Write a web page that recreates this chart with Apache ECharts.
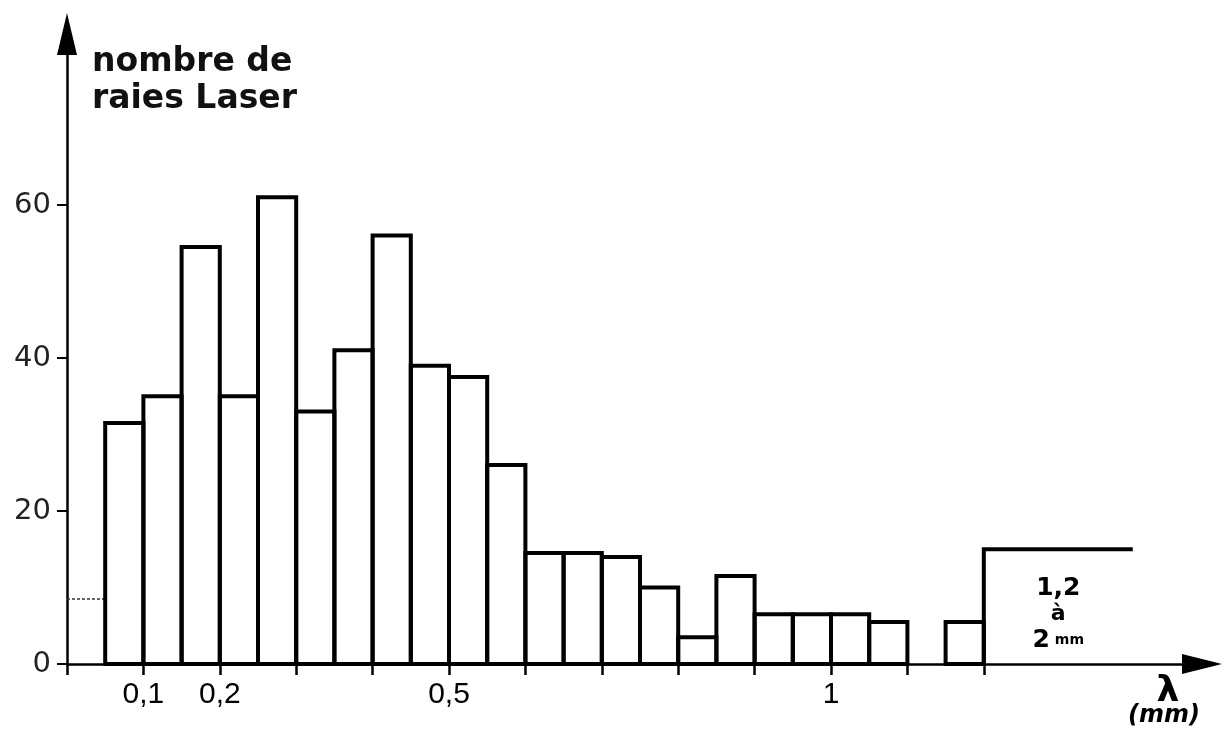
<!DOCTYPE html>
<html>
<head>
<meta charset="utf-8">
<script src="https://cdn.jsdelivr.net/npm/echarts@6/dist/echarts.min.js"></script>
<style>
  html, body { margin: 0; padding: 0; background: #fff; }
  #chart { width: 1227px; height: 744px; }
</style>
</head>
<body>
<div id="chart"></div>
<script>
// Classes de longueur d'onde λ (mm) : bornes inférieure et supérieure
const binLow  = [0.00, 0.05, 0.10, 0.15, 0.20, 0.25, 0.30, 0.35, 0.40, 0.45, 0.50, 0.55,
                 0.60, 0.65, 0.70, 0.75, 0.80, 0.85, 0.90, 0.95, 1.00, 1.05, 1.10, 1.15, 1.2];
const binHigh = [0.05, 0.10, 0.15, 0.20, 0.25, 0.30, 0.35, 0.40, 0.45, 0.50, 0.55, 0.60,
                 0.65, 0.70, 0.75, 0.80, 0.85, 0.90, 0.95, 1.00, 1.05, 1.10, 1.15, 1.20, 2.0];
// Nombre de raies laser dans chaque classe
const raies   = [8.5, 31.5, 35, 54.5, 35, 61, 33, 41, 56, 39, 37.5, 26,
                 14.5, 14.5, 14, 10, 3.5, 11.5, 6.5, 6.5, 6.5, 5.5, 0, 5.5, 15];

// Graduations et étiquettes des axes
const xTickValues  = [0, 0.1, 0.2, 0.3, 0.4, 0.5, 0.6, 0.7, 0.8, 0.9, 1.0, 1.1, 1.2];
const xLabelValues = [0.1, 0.2, 0.5, 1];
const yTickValues  = [0, 20, 40, 60];

// Axe des λ interrompu : la dernière classe (1,2 à 2 mm) est tracée raccourcie
const X_MAX = 1.4856;
const Y_MAX = 82.35;
const OPEN_BIN_DRAWN_END = 1.395;

const data = binLow.map((lo, i) => [lo, binHigh[i], raies[i]]);

const chart = echarts.init(document.getElementById('chart'), null, { renderer: 'canvas' });

const ink = '#000';

chart.setOption({
  animation: false,
  backgroundColor: '#fff',
  title: {
    text: 'nombre de\nraies Laser',
    left: 92,
    top: 44,
    padding: 0,
    textStyle: {
      fontFamily: 'DejaVu Sans',
      fontWeight: 'bold',
      fontSize: 33,
      lineHeight: 37,
      color: '#111'
    }
  },
  grid: { left: 67, right: 25, top: 34, bottom: 80, containLabel: false },
  xAxis: {
    type: 'value',
    min: 0,
    max: X_MAX,
    splitLine: { show: false },
    axisLine: {
      show: true,
      onZero: false,
      symbol: ['none', 'triangle'],
      symbolSize: [20, 40],
      lineStyle: { color: ink, width: 2.5 }
    },
    axisTick: {
      show: true,
      customValues: xTickValues,
      length: 11,
      lineStyle: { color: ink, width: 2.5 }
    },
    axisLabel: {
      show: true,
      customValues: xLabelValues,
      margin: 16,
      formatter: v => String(v).replace('.', ','),
      fontFamily: 'Liberation Sans',
      fontSize: 30,
      color: ink
    }
  },
  yAxis: {
    type: 'value',
    min: 0,
    max: Y_MAX,
    splitLine: { show: false },
    axisLine: {
      show: true,
      onZero: false,
      symbol: ['none', 'triangle'],
      symbolSize: [20, 42],
      lineStyle: { color: ink, width: 2.5 }
    },
    axisTick: {
      show: true,
      customValues: yTickValues,
      length: 10,
      lineStyle: { color: ink, width: 2 }
    },
    axisLabel: {
      show: true,
      customValues: yTickValues,
      margin: 16,
      fontFamily: 'DejaVu Sans',
      fontSize: 29,
      color: '#222'
    }
  },
  graphic: [
    {
      type: 'text',
      x: 1168, y: 692,
      style: {
        text: 'λ',
        align: 'center', verticalAlign: 'middle',
        font: 'bold 36px "DejaVu Sans"',
        fill: ink
      }
    },
    {
      type: 'text',
      x: 1164, y: 716,
      style: {
        text: '(mm)',
        align: 'center', verticalAlign: 'middle',
        font: 'italic bold 24px "DejaVu Sans"',
        fill: ink
      }
    }
  ],
  series: [{
    type: 'custom',
    clip: false,
    data: data,
    encode: { x: [0, 1], y: 2 },
    renderItem: function (params, api) {
      const lo = api.value(0);
      const hi = api.value(1);
      const n = api.value(2);
      if (!n) return null;
      const base = api.coord([lo, 0]);

      // classe ouverte au-delà de la coupure de l'axe
      if (hi > X_MAX) {
        const topLeft = api.coord([lo, n]);
        const topRight = api.coord([OPEN_BIN_DRAWN_END, n]);
        const mid = api.coord([(lo + OPEN_BIN_DRAWN_END) / 2, n * 0.43]);
        return {
          type: 'group',
          children: [
            {
              type: 'polyline',
              shape: { points: [base, topLeft, topRight] },
              style: { stroke: ink, lineWidth: 4, fill: null }
            },
            {
              type: 'text',
              x: mid[0], y: mid[1],
              style: {
                text: '{a|1,2}\n{b|à}\n{a|2}{c| mm}',
                align: 'center', verticalAlign: 'middle',
                rich: {
                  a: { fontFamily: 'DejaVu Sans', fontWeight: 'bold', fontSize: 25, lineHeight: 26, fill: ink },
                  b: { fontFamily: 'DejaVu Sans', fontWeight: 'bold', fontSize: 22, lineHeight: 26, fill: ink },
                  c: { fontFamily: 'DejaVu Sans', fontWeight: 'bold', fontSize: 14, lineHeight: 26, fill: ink }
                }
              }
            }
          ]
        };
      }

      const top = api.coord([hi, n]);

      // première classe : seul le palier, en pointillé
      if (params.dataIndex === 0) {
        return {
          type: 'line',
          shape: { x1: base[0], y1: top[1], x2: top[0], y2: top[1] },
          style: { stroke: '#333', lineWidth: 1.5, lineDash: [3, 2] }
        };
      }

      return {
        type: 'rect',
        shape: {
          x: base[0], y: top[1],
          width: top[0] - base[0],
          height: base[1] - top[1]
        },
        style: { stroke: ink, lineWidth: 4, fill: null }
      };
    }
  }]
});
</script>
</body>
</html>
